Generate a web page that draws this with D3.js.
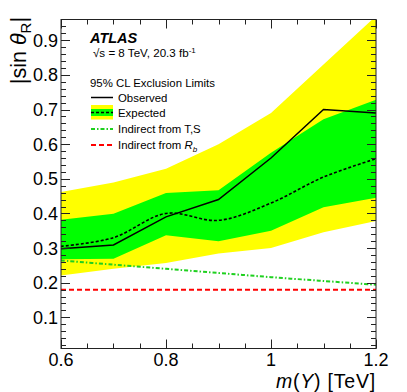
<!DOCTYPE html>
<html>
<head>
<meta charset="utf-8">
<script src="https://cdn.jsdelivr.net/npm/d3@7"></script>
<style>
html,body{margin:0;padding:0;background:#fff;}
svg{display:block;font-family:"Liberation Sans",Arial,Helvetica,sans-serif;}
</style>
</head>
<body>
<svg id="chart" width="407" height="392"></svg>
<script>
// ---- data ----
const masses     = [0.6, 0.7, 0.8, 0.9, 1.0, 1.1, 1.2];
const observed   = [0.298, 0.309, 0.39, 0.44, 0.56, 0.70, 0.69];
const expected   = [0.305, 0.33, 0.40, 0.38, 0.43, 0.505, 0.558];
const exp1Up     = [0.382, 0.399, 0.459, 0.467, 0.575, 0.672, 0.728];
const exp1Down   = [0.268, 0.269, 0.337, 0.32, 0.35, 0.418, 0.445];
const exp2Up     = [0.462, 0.489, 0.529, 0.60, 0.69, 0.83, 0.97];
const exp2Down   = [0.221, 0.240, 0.257, 0.284, 0.30, 0.346, 0.378];
const indirectTS = [0.264, 0.252, 0.240, 0.228, 0.216, 0.205, 0.194];
const indirectRb = [0.18, 0.18, 0.18, 0.18, 0.18, 0.18, 0.18];
const xMajorTicks = [0.6, 0.8, 1.0, 1.2];
const xTickLabels = ["0.6", "0.8", "1", "1.2"];
const yMajorTicks = [0.1, 0.2, 0.3, 0.4, 0.5, 0.6, 0.7, 0.8, 0.9];
const yTickLabels = ["0.1", "0.2", "0.3", "0.4", "0.5", "0.6", "0.7", "0.8", "0.9"];

// ---- layout ----
const L = 61, R = 376, T = 19.5, B = 348.5;
const svg = d3.select("#chart");
const x = d3.scaleLinear().domain([0.6, 1.2]).range([L, R]);
const y = d3.scaleLinear().domain([0.01, 0.96]).range([B, T]);

svg.append("defs").append("clipPath").attr("id", "clip")
  .append("rect").attr("x", L).attr("y", T).attr("width", R - L).attr("height", B - T);

const plot = svg.append("g").attr("clip-path", "url(#clip)");
const idx = masses.map((m, i) => i);

function band(up, dn) {
  return d3.area().x(i => x(masses[i])).y0(i => y(dn[i])).y1(i => y(up[i]))(idx);
}
plot.append("path").attr("d", band(exp2Up, exp2Down)).attr("fill", "#ffff00");
plot.append("path").attr("d", band(exp1Up, exp1Down)).attr("fill", "#00ff00");

function line(vals, curve) {
  return d3.line().x(i => x(masses[i])).y(i => y(vals[i])).curve(curve || d3.curveLinear)(idx);
}
plot.append("path").attr("d", line(indirectRb)).attr("fill", "none")
  .attr("stroke", "#ff0000").attr("stroke-width", 2).attr("stroke-dasharray", "5,3");
plot.append("path").attr("d", line(indirectTS, d3.curveCatmullRom)).attr("fill", "none")
  .attr("stroke", "#1fd01f").attr("stroke-width", 2).attr("stroke-dasharray", "4,2,1.5,2");
plot.append("path").attr("d", line(expected, d3.curveCatmullRom)).attr("fill", "none")
  .attr("stroke", "#000").attr("stroke-width", 1.6).attr("stroke-dasharray", "3,2");
plot.append("path").attr("d", line(observed)).attr("fill", "none")
  .attr("stroke", "#000").attr("stroke-width", 1.5);

// ---- frame and ticks ----
const axCol = "#222";
svg.append("rect").attr("x", L).attr("y", T).attr("width", R - L).attr("height", B - T)
  .attr("fill", "none").attr("stroke", axCol).attr("stroke-width", 1);

const xMinor = d3.range(0, 13).map(k => 0.6 + k * 0.05);
const yMinor = d3.range(1, 48).map(k => k * 0.02);
const tg = svg.append("g").attr("stroke", axCol).attr("stroke-width", 1);
xMinor.forEach(v => {
  const isMajor = xMajorTicks.some(m => Math.abs(m - v) < 1e-6);
  const len = isMajor ? 9 : 5;
  const px = Math.round(x(v)) + 0.5;
  tg.append("line").attr("x1", px).attr("x2", px).attr("y1", B).attr("y2", B - len);
  tg.append("line").attr("x1", px).attr("x2", px).attr("y1", T).attr("y2", T + len);
});
yMinor.forEach(v => {
  if (v > 0.961) return;
  const isMajor = yMajorTicks.some(m => Math.abs(m - v) < 1e-6);
  const len = isMajor ? 9 : 5;
  const py = Math.round(y(v)) + 0.5;
  tg.append("line").attr("x1", L).attr("x2", L + len).attr("y1", py).attr("y2", py);
  tg.append("line").attr("x1", R).attr("x2", R - len).attr("y1", py).attr("y2", py);
});

// tick labels
xMajorTicks.forEach((v, i) => {
  svg.append("text").attr("x", x(v)).attr("y", 366).attr("text-anchor", "middle")
    .attr("font-size", 18).text(xTickLabels[i]);
});
yMajorTicks.forEach((v, i) => {
  svg.append("text").attr("x", 58).attr("y", y(v)).attr("dy", "0.36em").attr("text-anchor", "end")
    .attr("font-size", 18).text(yTickLabels[i]);
});

// axis titles
const xt = svg.append("text").attr("x", R).attr("y", 388).attr("text-anchor", "end")
  .attr("font-size", 19.5).attr("letter-spacing", 0.8);
xt.append("tspan").attr("font-style", "italic").text("m");
xt.append("tspan").text("(");
xt.append("tspan").attr("font-style", "italic").text("Y");
xt.append("tspan").text(") [TeV]");

const yt = svg.append("text").attr("transform", "translate(26,17) rotate(-90)")
  .attr("text-anchor", "end").attr("font-size", 21.5);
yt.append("tspan").text("|sin ");
yt.append("tspan").attr("font-style", "italic").text("θ");
yt.append("tspan").attr("font-size", 15).attr("dy", 5).text("R");
yt.append("tspan").attr("dy", -5).text("|");

// ---- labels ----
svg.append("text").attr("x", 90).attr("y", 43).attr("font-size", 14.5)
  .attr("font-weight", "bold").attr("font-style", "italic").text("ATLAS");
const sq = svg.append("text").attr("x", 93).attr("y", 57).attr("font-size", 11.6);
sq.append("tspan").text("√s = 8 TeV, 20.3 fb");
sq.append("tspan").attr("font-size", 8).attr("dy", -4).text("-1");

svg.append("text").attr("x", 90).attr("y", 86.5).attr("font-size", 11.4).text("95% CL Exclusion Limits");

const lg = svg.append("g");
const sx0 = 91, sx1 = 113, tx = 118;
// Observed
lg.append("line").attr("x1", sx0).attr("x2", sx1).attr("y1", 97.5).attr("y2", 97.5)
  .attr("stroke", "#000").attr("stroke-width", 1.5);
lg.append("text").attr("x", tx).attr("y", 101.5).attr("font-size", 11.4).text("Observed");
// Expected
lg.append("rect").attr("x", sx0).attr("y", 105).attr("width", sx1 - sx0).attr("height", 14.5).attr("fill", "#ffff00");
lg.append("rect").attr("x", sx0).attr("y", 109).attr("width", sx1 - sx0).attr("height", 7).attr("fill", "#00ff00");
lg.append("line").attr("x1", sx0).attr("x2", sx1).attr("y1", 112.5).attr("y2", 112.5)
  .attr("stroke", "#000").attr("stroke-width", 1.6).attr("stroke-dasharray", "3,2");
lg.append("text").attr("x", tx).attr("y", 117).attr("font-size", 11.4).text("Expected");
// T,S
lg.append("line").attr("x1", sx0).attr("x2", sx1).attr("y1", 129).attr("y2", 129)
  .attr("stroke", "#1fd01f").attr("stroke-width", 2).attr("stroke-dasharray", "4,2,1.5,2");
lg.append("text").attr("x", tx).attr("y", 133).attr("font-size", 11.4).text("Indirect from T,S");
// Rb
lg.append("line").attr("x1", sx0).attr("x2", sx1).attr("y1", 145).attr("y2", 145)
  .attr("stroke", "#ff0000").attr("stroke-width", 2).attr("stroke-dasharray", "5,3");
const rbt = lg.append("text").attr("x", tx).attr("y", 149).attr("font-size", 11.4);
rbt.append("tspan").text("Indirect from ");
rbt.append("tspan").attr("font-style", "italic").text("R");
rbt.append("tspan").attr("font-style", "italic").attr("font-size", 8).attr("dy", 3).text("b");
</script>
</body>
</html>
